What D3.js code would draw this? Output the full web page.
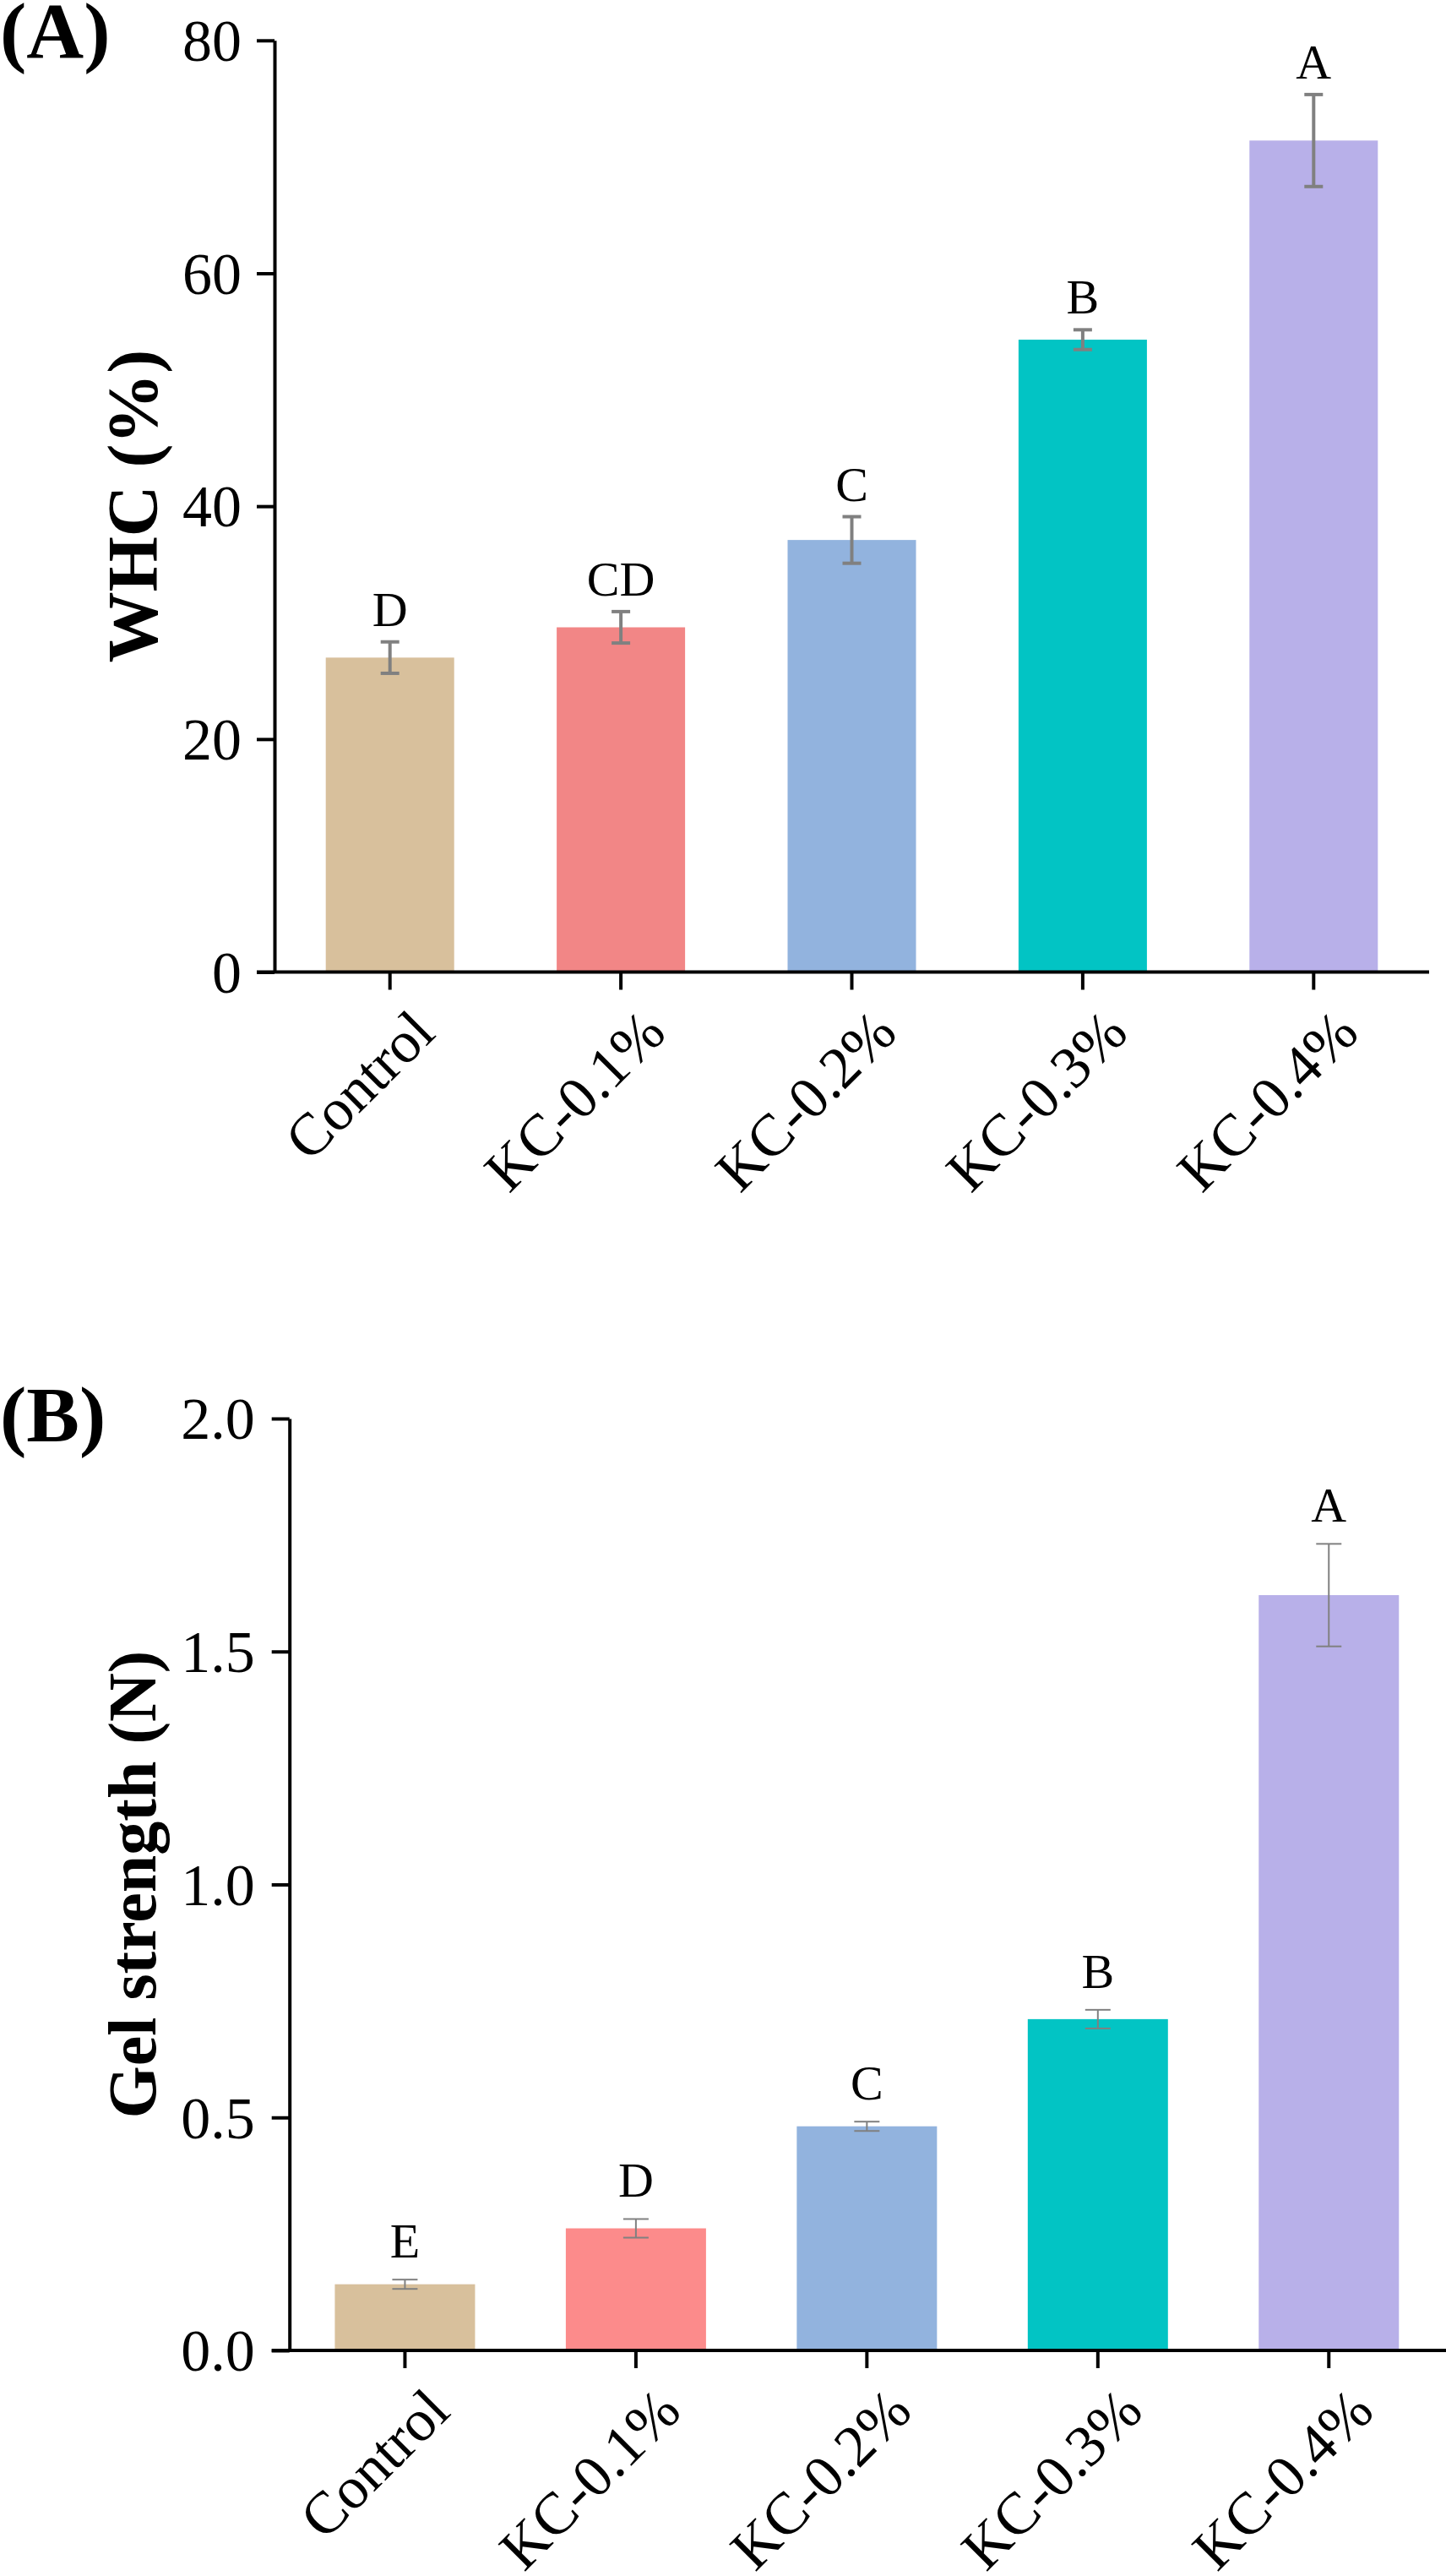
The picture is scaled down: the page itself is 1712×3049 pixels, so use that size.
<!DOCTYPE html>
<html><head><meta charset="utf-8">
<script src="https://cdn.jsdelivr.net/npm/d3@7"></script>
<style>
body{margin:0;background:#fff}
svg{display:block}
text{font-family:"Liberation Serif","Times New Roman",Times,serif;fill:#000}
</style>
</head><body>
<svg id="chart" width="1712" height="3049"></svg>
<script>
// ---- data ----
const categories = ["Control", "KC-0.1%", "KC-0.2%", "KC-0.3%", "KC-0.4%"];

const whcValues  = [27.0, 29.6, 37.1, 54.3, 71.4];
const whcErrors  = [1.35, 1.35, 2.0, 0.85, 3.95];
const whcLetters = ["D", "CD", "C", "B", "A"];
const whcTicks   = [0, 20, 40, 60, 80];

const gelValues  = [0.142, 0.262, 0.481, 0.711, 1.621];
const gelErrors  = [0.010, 0.020, 0.010, 0.020, 0.110];
const gelLetters = ["E", "D", "C", "B", "A"];
const gelTicks   = [0, 0.5, 1.0, 1.5, 2.0];

const colorsA = ["#D8C09C", "#F28686", "#92B3DE", "#02C4C4", "#B8B0E9"];
const colorsB = ["#D8C09C", "#FC8B8B", "#92B3DE", "#02C4C4", "#B8B0E9"];

const svg = d3.select("#chart");

function drawPanel(cfg) {
  const g = svg.append("g");
  const x = d3.scaleBand().domain(categories).range([cfg.x0, cfg.x1])
    .paddingInner(cfg.padIn).paddingOuter(cfg.padIn / 2);
  const y = d3.scaleLinear().domain(cfg.domain).range([cfg.yBot, cfg.yTop]);

  // bars
  g.selectAll("rect.bar").data(categories).enter().append("rect")
    .attr("class", "bar")
    .attr("x", d => x(d))
    .attr("width", x.bandwidth())
    .attr("y", (d, i) => y(cfg.values[i]))
    .attr("height", (d, i) => y(0) - y(cfg.values[i]))
    .attr("fill", (d, i) => cfg.colors[i]);

  // error bars
  const eb = g.selectAll("g.err").data(categories).enter().append("g")
    .attr("class", "err")
    .attr("transform", d => `translate(${x(d) + x.bandwidth() / 2},0)`)
    .attr("stroke", "#808080").attr("stroke-width", cfg.errW);
  eb.append("line").attr("x1", 0).attr("x2", 0)
    .attr("y1", (d, i) => y(cfg.values[i] + cfg.errors[i]))
    .attr("y2", (d, i) => y(cfg.values[i] - cfg.errors[i]));
  eb.append("line").attr("x1", -cfg.capW / 2).attr("x2", cfg.capW / 2)
    .attr("y1", (d, i) => y(cfg.values[i] + cfg.errors[i]))
    .attr("y2", (d, i) => y(cfg.values[i] + cfg.errors[i]));
  eb.append("line").attr("x1", -cfg.capW / 2).attr("x2", cfg.capW / 2)
    .attr("y1", (d, i) => y(cfg.values[i] - cfg.errors[i]))
    .attr("y2", (d, i) => y(cfg.values[i] - cfg.errors[i]));

  // significance letters
  g.selectAll("text.sig").data(categories).enter().append("text")
    .attr("class", "sig")
    .attr("x", d => x(d) + x.bandwidth() / 2)
    .attr("y", (d, i) => y(cfg.values[i] + cfg.errors[i]) - cfg.letterGap)
    .attr("text-anchor", "middle")
    .attr("font-size", cfg.letterSize)
    .text((d, i) => cfg.letters[i]);

  // y axis
  const ya = g.append("g").attr("transform", `translate(${cfg.x0},0)`)
    .call(d3.axisLeft(y).tickValues(cfg.ticks).tickFormat(cfg.fmt)
      .tickSize(21).tickSizeOuter(0).tickPadding(cfg.yPad));
  ya.select(".domain").attr("stroke", "#000").attr("stroke-width", 4);
  ya.selectAll(".tick line").attr("stroke", "#000").attr("stroke-width", 4);
  ya.selectAll(".tick text").attr("font-size", 70)
    .attr("font-family", "'Liberation Serif','Times New Roman',serif")
    .attr("dy", "0.34em");

  // x axis
  const xa = g.append("g").attr("transform", `translate(0,${cfg.yBot})`)
    .call(d3.axisBottom(x).tickSize(21).tickSizeOuter(0));
  xa.select(".domain").remove();
  xa.append("line").attr("x1", cfg.x0 - 21).attr("x2", cfg.xAxisEnd)
    .attr("y1", 0).attr("y2", 0).attr("stroke", "#000").attr("stroke-width", 4);
  xa.selectAll(".tick line").attr("stroke", "#000").attr("stroke-width", 4);
  xa.selectAll(".tick text")
    .attr("font-size", 70)
    .attr("font-family", "'Liberation Serif','Times New Roman',serif")
    .attr("x", 0).attr("y", 0).attr("dy", null)
    .attr("text-anchor", "end")
    .attr("transform", "translate(56,75) rotate(-45)");

  // y title
  g.append("text")
    .attr("transform", `translate(${cfg.titleX},${(cfg.yTop + cfg.yBot) / 2}) rotate(-90)`)
    .attr("text-anchor", "middle")
    .attr("font-weight", "bold")
    .attr("font-size", cfg.titleSize)
    .text(cfg.title);

  // panel label
  g.append("text")
    .attr("x", 0).attr("y", cfg.labelY)
    .attr("font-weight", "bold")
    .attr("font-size", 94)
    .text(cfg.label);
}

drawPanel({
  values: whcValues, errors: whcErrors, letters: whcLetters, ticks: whcTicks,
  colors: colorsA, domain: [0, 80], fmt: d3.format("d"),
  x0: 325, x1: 1692, xAxisEnd: 1692, yTop: 47.8, yBot: 1150.5,
  padIn: 0.444, errW: 4, capW: 22, letterGap: 19, letterSize: 58, yPad: 18,
  title: "WHC (%)", titleX: 186, titleSize: 84, label: "(A)", labelY: 68
});

drawPanel({
  values: gelValues, errors: gelErrors, letters: gelLetters, ticks: gelTicks,
  colors: colorsB, domain: [0, 2], fmt: d3.format(".1f"),
  x0: 342.7, x1: 1710, xAxisEnd: 1712, yTop: 1679, yBot: 2782,
  padIn: 0.393, errW: 2, capW: 30, letterGap: 26, letterSize: 58, yPad: 20,
  title: "Gel strength (N)", titleX: 184, titleSize: 80, label: "(B)", labelY: 1706
});
</script>
</body></html>
